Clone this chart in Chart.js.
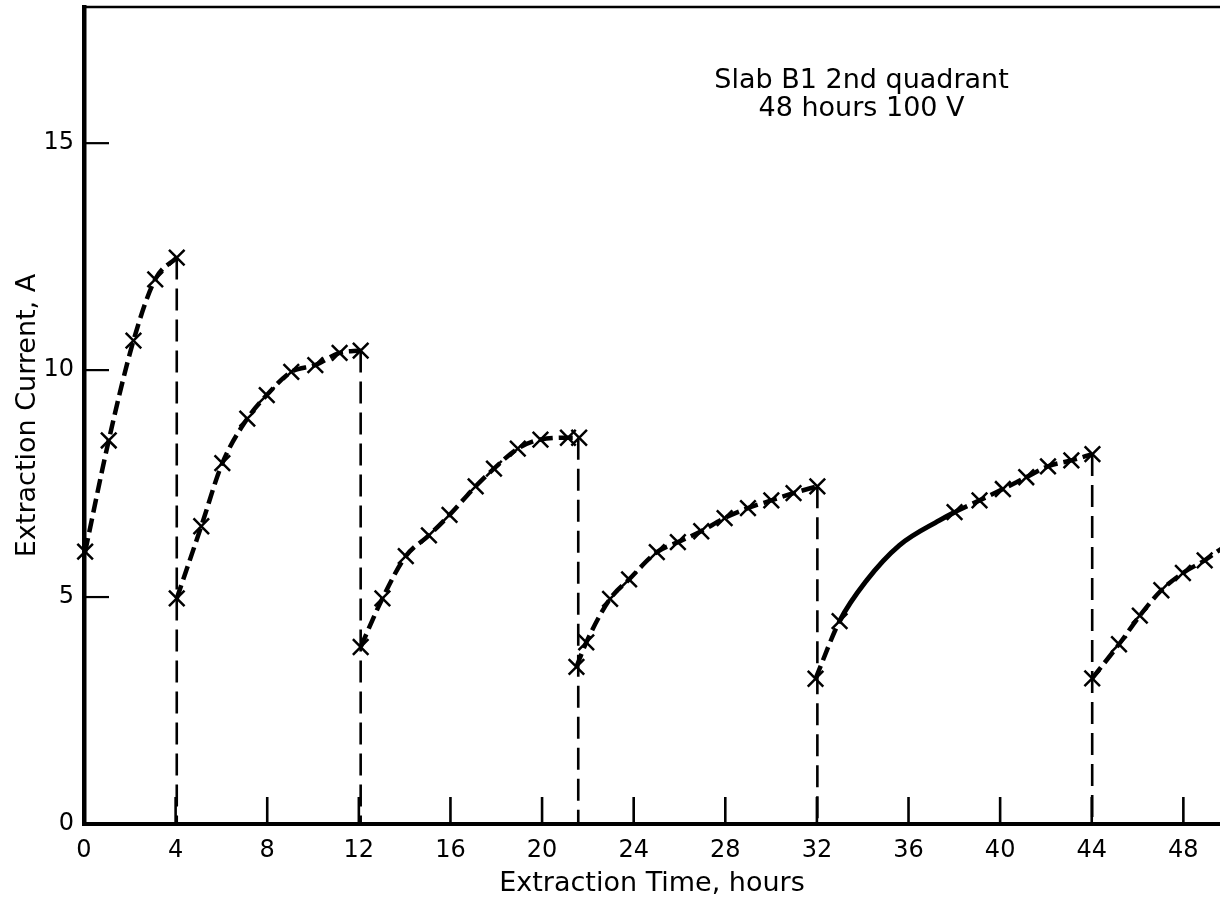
<!DOCTYPE html>
<html>
<head>
<meta charset="utf-8">
<script src="https://cdn.jsdelivr.net/npm/chart.js@4.4.1/dist/chart.umd.min.js"></script>
<style>
html,body{margin:0;padding:0;background:#fff;}
#wrap{width:1220px;height:904px;position:relative;}
</style>
</head>
<body>
<div id="wrap"><canvas id="c"></canvas></div>
<script>
// ---- data ----
const cycle1Time    = [0.05, 1.08, 2.16, 3.11, 4.05];
const cycle1Current = [6.0, 8.45, 10.65, 12.0, 12.48];

const cycle2Time    = [4.05, 5.12, 6.04, 7.13, 7.98, 9.05, 10.1, 11.16, 12.08];
const cycle2Current = [4.97, 6.56, 7.95, 8.93, 9.45, 9.96, 10.11, 10.38, 10.43];

const cycle3Time    = [12.08, 13.03, 14.05, 15.06, 15.96, 17.1, 17.9, 18.94, 19.93, 21.13, 21.62];
const cycle3Current = [3.9, 4.97, 5.9, 6.36, 6.81, 7.44, 7.83, 8.27, 8.47, 8.51, 8.51];

const cycle4Time    = [21.5, 21.93, 22.97, 23.8, 25.01, 25.93, 26.95, 27.97, 28.99, 30.01, 30.98, 32.02];
const cycle4Current = [3.46, 4.0, 4.96, 5.39, 5.99, 6.21, 6.45, 6.74, 6.96, 7.13, 7.29, 7.44];

const cycle5Time    = [31.94, 32.99, 38.01, 39.1, 40.12, 41.14, 42.09, 43.11, 44.03];
const cycle5Current = [3.2, 4.47, 6.87, 7.13, 7.38, 7.64, 7.88, 8.01, 8.15];
// unmarked (solid) part of the 5th curve
const cycle5CurveTime    = [34.16, 35.6, 37.35];
const cycle5CurveCurrent = [5.36, 6.14, 6.69];

const cycle6Time    = [44.02, 45.19, 46.1, 47.04, 47.98, 48.93];
const cycle6Current = [3.21, 3.96, 4.59, 5.15, 5.53, 5.81];
// curve continues past the last marker to the edge
const cycle6TailTime    = [49.7];
const cycle6TailCurrent = [6.08];

// voltage-off drops (vertical dashed lines)
const dropTime       = [4.05, 12.08, 21.58, 32.02, 44.02];
const dropTopCurrent = [12.48, 10.43, 8.51, 7.44, 8.15];

const xTickValues = [0, 4, 8, 12, 16, 20, 24, 28, 32, 36, 40, 44, 48];
const yTickValues = [0, 5, 10, 15];
const xAxisTitle = 'Extraction Time, hours';
const yAxisTitle = 'Extraction Current, A';
const noteLines = ['Slab B1 2nd quadrant', '48 hours 100 V'];

// ---- styling / layout ----
const FONT = '"DejaVu Sans", "Liberation Sans", sans-serif';
const DASH = [14, 6];
const noteTime = 33.95;
const noteCurrents = [16.38, 15.76];

const cycles = [
  {t: cycle1Time, i: cycle1Current},
  {t: cycle2Time, i: cycle2Current},
  {t: cycle3Time, i: cycle3Current},
  {t: cycle4Time, i: cycle4Current},
  {t: cycle5Time, i: cycle5Current, xt: cycle5CurveTime, xi: cycle5CurveCurrent, solid: true},
  {t: cycle6Time, i: cycle6Current, xt: cycle6TailTime, xi: cycle6TailCurrent, solid: false}
];

const datasets = [];

// drop lines
dropTime.forEach((t, k) => {
  datasets.push({
    type: 'line',
    data: [{x: t, y: dropTopCurrent[k]}, {x: t, y: 0}],
    borderColor: '#000',
    borderWidth: 2.6,
    borderDash: [22, 9],
    pointRadius: 0,
    fill: false,
    order: 3
  });
});

// curves
cycles.forEach(c => {
  const pts = c.t.map((t, k) => ({x: t, y: c.i[k], plain: false}));
  if (c.xt) c.xt.forEach((t, k) => pts.push({x: t, y: c.xi[k], plain: true}));
  pts.sort((a, b) => a.x - b.x);
  const solid = !!c.solid;
  const isSolid = ctx => solid && (pts[ctx.p0DataIndex].plain || pts[ctx.p1DataIndex].plain);
  datasets.push({
    type: 'line',
    data: pts,
    borderColor: '#000',
    borderWidth: 4.5,
    borderDash: DASH,
    borderCapStyle: 'butt',
    pointRadius: 0,
    tension: 0.4,
    cubicInterpolationMode: 'monotone',
    fill: false,
    clip: false,
    order: 2,
    segment: {
      borderDash: ctx => isSolid(ctx) ? [] : DASH,
      borderWidth: ctx => isSolid(ctx) ? 5 : 4.5
    }
  });
});

// markers
cycles.forEach(c => {
  datasets.push({
    type: 'line',
    data: c.t.map((t, k) => ({x: t, y: c.i[k]})),
    showLine: false,
    pointStyle: 'crossRot',
    pointRadius: 11,
    pointBorderWidth: 2.5,
    pointBorderColor: '#000',
    pointBackgroundColor: '#000',
    clip: false,
    order: 1
  });
});

const framePlugin = {
  id: 'frame',
  beforeDraw(chart) {
    const ctx = chart.ctx;
    ctx.save();
    ctx.fillStyle = '#fff';
    ctx.fillRect(0, 0, chart.width, chart.height);
    ctx.restore();
  },
  afterDraw(chart) {
    const {ctx, chartArea: a, scales: {x, y}} = chart;
    ctx.save();
    ctx.strokeStyle = '#000';
    ctx.lineCap = 'butt';
    // top border
    ctx.lineWidth = 2.5;
    ctx.beginPath();
    ctx.moveTo(a.left, a.top);
    ctx.lineTo(a.right, a.top);
    ctx.stroke();
    // inward x ticks
    ctx.lineWidth = 2.6;
    x.ticks.forEach(t => {
      if (t.value === 0) return;
      const px = x.getPixelForValue(t.value);
      ctx.beginPath();
      ctx.moveTo(px, a.bottom);
      ctx.lineTo(px, a.bottom - 27);
      ctx.stroke();
    });
    // inward y ticks
    ctx.lineWidth = 2.2;
    y.ticks.forEach(t => {
      if (t.value === 0) return;
      const py = y.getPixelForValue(t.value);
      ctx.beginPath();
      ctx.moveTo(a.left, py);
      ctx.lineTo(a.left + 25, py);
      ctx.stroke();
    });
    // note
    ctx.fillStyle = '#000';
    ctx.font = '27px ' + FONT;
    ctx.textAlign = 'center';
    ctx.textBaseline = 'middle';
    noteLines.forEach((s, k) => {
      ctx.fillText(s, x.getPixelForValue(noteTime), y.getPixelForValue(noteCurrents[k]));
    });
    ctx.restore();
  }
};

new Chart(document.getElementById('c'), {
  type: 'line',
  data: {datasets},
  plugins: [framePlugin],
  options: {
    responsive: true,
    maintainAspectRatio: false,
    animation: false,
    layout: {autoPadding: false, padding: {top: 7, right: 0, bottom: 0, left: 0}},
    plugins: {legend: {display: false}, tooltip: {enabled: false}},
    scales: {
      x: {
        type: 'linear',
        min: 0,
        max: 49.6,
        afterBuildTicks: s => { s.ticks = xTickValues.map(v => ({value: v})); },
        afterFit: s => { s.height = 80; s.paddingLeft = 0; s.paddingRight = 0; },
        ticks: {
          font: {family: FONT, size: 24},
          color: '#000',
          padding: 12,
          maxRotation: 0,
          autoSkip: false,
          callback: v => String(v)
        },
        grid: {display: false, drawTicks: false, tickLength: 0},
        border: {display: true, width: 4, color: '#000'},
        title: {
          display: true,
          text: xAxisTitle,
          font: {family: FONT, size: 27},
          color: '#000',
          padding: {top: 0, bottom: 4}
        }
      },
      y: {
        type: 'linear',
        min: 0,
        max: 18,
        afterBuildTicks: s => { s.ticks = yTickValues.map(v => ({value: v})); },
        afterFit: s => { s.width = 84; s.paddingTop = 0; s.paddingBottom = 0; },
        ticks: {
          font: {family: FONT, size: 24},
          color: '#000',
          padding: 10,
          autoSkip: false,
          callback: v => String(v)
        },
        grid: {display: false, drawTicks: false, tickLength: 0},
        border: {display: true, width: 4.5, color: '#000'},
        title: {
          display: true,
          text: yAxisTitle,
          font: {family: FONT, size: 27},
          color: '#000',
          padding: {top: 12, bottom: 12}
        }
      }
    }
  }
});
</script>
</body>
</html>
